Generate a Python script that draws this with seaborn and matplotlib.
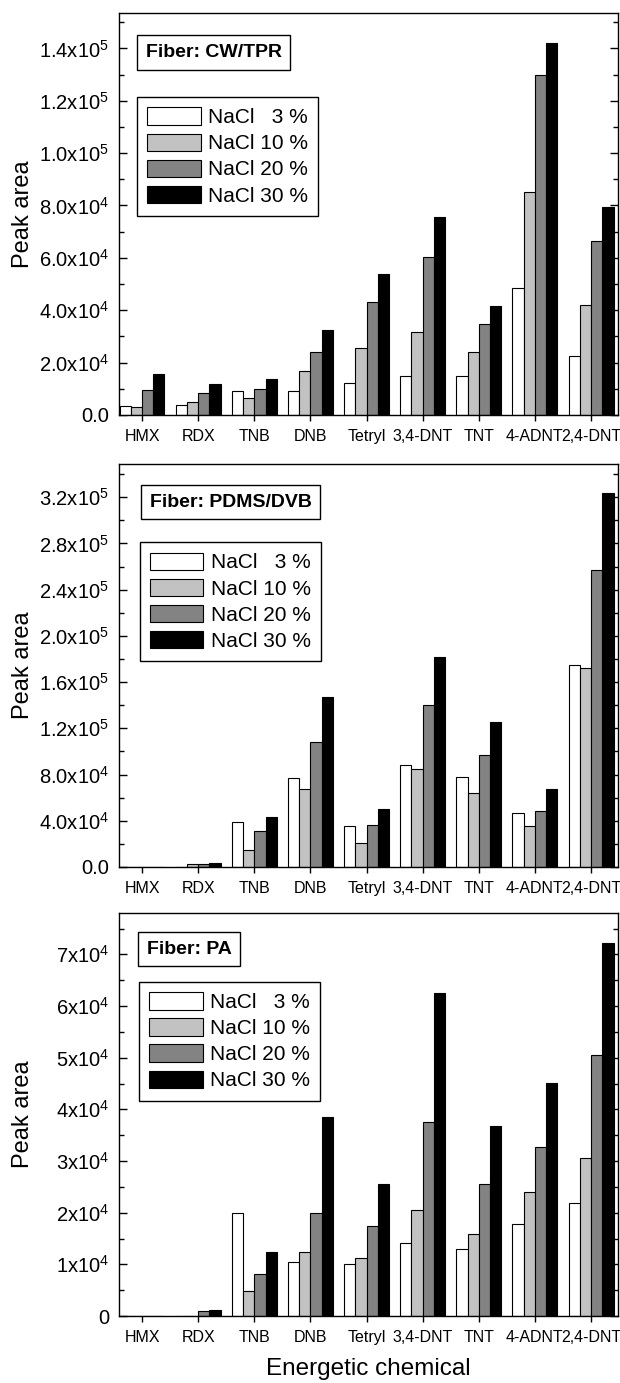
import numpy as np
import pandas as pd
import matplotlib
matplotlib.use("Agg")
import matplotlib.pyplot as plt
from matplotlib.ticker import FuncFormatter, MultipleLocator
from matplotlib.offsetbox import AnchoredText
import seaborn as sns

# ---------------- data ----------------
chemicals = ["HMX", "RDX", "TNB", "DNB", "Tetryl", "3,4-DNT", "TNT", "4-ADNT", "2,4-DNT"]
nacl_labels = ["NaCl   3 %", "NaCl 10 %", "NaCl 20 %", "NaCl 30 %"]

cw_tpr_3 = [3300, 3800, 9300, 9300, 12200, 15000, 14900, 48600, 22600]
cw_tpr_10 = [2900, 5000, 6600, 16800, 25400, 31800, 23900, 85200, 42000]
cw_tpr_20 = [9700, 8500, 9800, 23900, 43300, 60300, 34900, 129800, 66500]
cw_tpr_30 = [15500, 11800, 13600, 32600, 53800, 75700, 41700, 141900, 79500]

pdms_dvb_3 = [0, 0, 38600, 77000, 35200, 88200, 77500, 46400, 175000]
pdms_dvb_10 = [0, 2500, 14400, 67700, 20800, 84800, 64000, 35200, 171800]
pdms_dvb_20 = [0, 2500, 31400, 107800, 36000, 140400, 97100, 48100, 256600]
pdms_dvb_30 = [0, 3500, 43200, 147000, 50400, 181300, 125100, 67500, 323400]

pa_3 = [0, 0, 19900, 10500, 10100, 14100, 13000, 17900, 21900]
pa_10 = [0, 0, 4800, 12300, 11200, 20600, 15800, 24000, 30600]
pa_20 = [0, 1000, 8200, 20000, 17400, 37500, 25600, 32800, 50500]
pa_30 = [0, 1200, 12300, 38500, 25600, 62600, 36700, 45100, 72200]

fiber_names = ["Fiber: CW/TPR", "Fiber: PDMS/DVB", "Fiber: PA"]
panel_series = [
    [cw_tpr_3, cw_tpr_10, cw_tpr_20, cw_tpr_30],
    [pdms_dvb_3, pdms_dvb_10, pdms_dvb_20, pdms_dvb_30],
    [pa_3, pa_10, pa_20, pa_30],
]

bar_colors = ["#ffffff", "#c2c2c2", "#838383", "#000000"]

# ---------------- style ----------------
sns.set_style("ticks")
plt.rcParams["font.family"] = ["Liberation Sans", "DejaVu Sans"]
plt.rcParams["mathtext.fontset"] = "custom"
plt.rcParams["mathtext.rm"] = "Liberation Sans"
plt.rcParams["mathtext.it"] = "Liberation Sans:italic"
plt.rcParams["mathtext.bf"] = "Liberation Sans:bold"
plt.rcParams["mathtext.default"] = "regular"
for key in ["text.color", "axes.labelcolor", "xtick.color", "ytick.color", "axes.edgecolor"]:
    plt.rcParams[key] = "black"


def sci_formatter(decimals):
    def fmt(v, pos):
        if abs(v) < 1e-9:
            return "0.0" if decimals else "0"
        exp = int(np.floor(np.log10(abs(v)) + 1e-9))
        mant = v / 10 ** exp
        return f"{mant:.{decimals}f}x10$^{{{exp}}}$"
    return FuncFormatter(fmt)


W, H = 620, 1383
fig = plt.figure(figsize=(W / 100, H / 100), dpi=100)

ax_left, ax_right = 119, 618
panels_px = [(13, 415), (464, 867), (913, 1316)]
ylims = [1.535e5, 3.487e5, 7.8e4]
major_steps = [2e4, 4e4, 1e4]
minor_steps = [1e4, 2e4, 5e3]
decimals = [1, 1, 0]
text_anchor = [(0.036, 0.945), (0.044, 0.948), (0.038, 0.953)]
legend_anchor = [(0.036, 0.791), (0.042, 0.806), (0.040, 0.829)]

for i, (top, bot) in enumerate(panels_px):
    ax = fig.add_axes([ax_left / W, 1 - bot / H, (ax_right - ax_left) / W, (bot - top) / H])
    df = pd.DataFrame({
        "chemical": np.tile(chemicals, 4),
        "nacl": np.repeat(nacl_labels, len(chemicals)),
        "area": np.concatenate(panel_series[i]),
    })
    sns.barplot(data=df, x="chemical", y="area", hue="nacl",
                order=chemicals, hue_order=nacl_labels, palette=bar_colors,
                width=0.8, gap=0, edgecolor="black", linewidth=0.8,
                saturation=1, errorbar=None, ax=ax)
    ax.set_xlim(-0.41, 8.48)
    ax.set_ylim(0, ylims[i])
    ax.yaxis.set_major_locator(MultipleLocator(major_steps[i]))
    ax.yaxis.set_minor_locator(MultipleLocator(minor_steps[i]))
    ax.yaxis.set_major_formatter(sci_formatter(decimals[i]))
    ax.tick_params(axis="y", which="major", direction="in", length=6, width=1,
                   left=True, right=True, labelsize=14.5, pad=7, colors="black")
    ax.tick_params(axis="y", which="minor", direction="in", length=3.5, width=1,
                   left=True, right=True, colors="black")
    ax.tick_params(axis="x", which="major", direction="out", length=4.5, width=1,
                   labelsize=11.5, pad=5.5, colors="black")
    for sp in ax.spines.values():
        sp.set_visible(True)
        sp.set_linewidth(1.0)
        sp.set_color("black")

    ax.set_ylabel("Peak area", fontsize=17, color="black")
    ax.yaxis.set_label_coords(-0.17, 0.5)
    if i == 2:
        ax.set_xlabel("Energetic chemical", fontsize=17.5, color="black")
        ax.xaxis.set_label_coords(0.5, -0.104)
    else:
        ax.set_xlabel("")

    handles, labels = ax.get_legend_handles_labels()
    if ax.get_legend() is not None:
        ax.get_legend().remove()
    leg = ax.legend(handles, labels, loc="upper left",
                    bbox_to_anchor=legend_anchor[i], bbox_transform=ax.transAxes,
                    borderaxespad=0, fontsize=15, handlelength=2.55,
                    handleheight=0.9, labelspacing=0.3, handletextpad=0.35,
                    borderpad=0.5, fancybox=False, framealpha=1,
                    edgecolor="black")
    leg.get_frame().set_linewidth(1.0)
    for t in leg.get_texts():
        t.set_color("black")

    at = AnchoredText(fiber_names[i], loc="upper left",
                      bbox_to_anchor=text_anchor[i], bbox_transform=ax.transAxes,
                      borderpad=0, pad=0.45,
                      prop=dict(size=14, weight="bold", color="black"), frameon=True)
    at.patch.set_boxstyle("square,pad=0")
    at.patch.set_linewidth(1.0)
    at.patch.set_edgecolor("black")
    ax.add_artist(at)

fig.savefig("out.png", dpi=100)
